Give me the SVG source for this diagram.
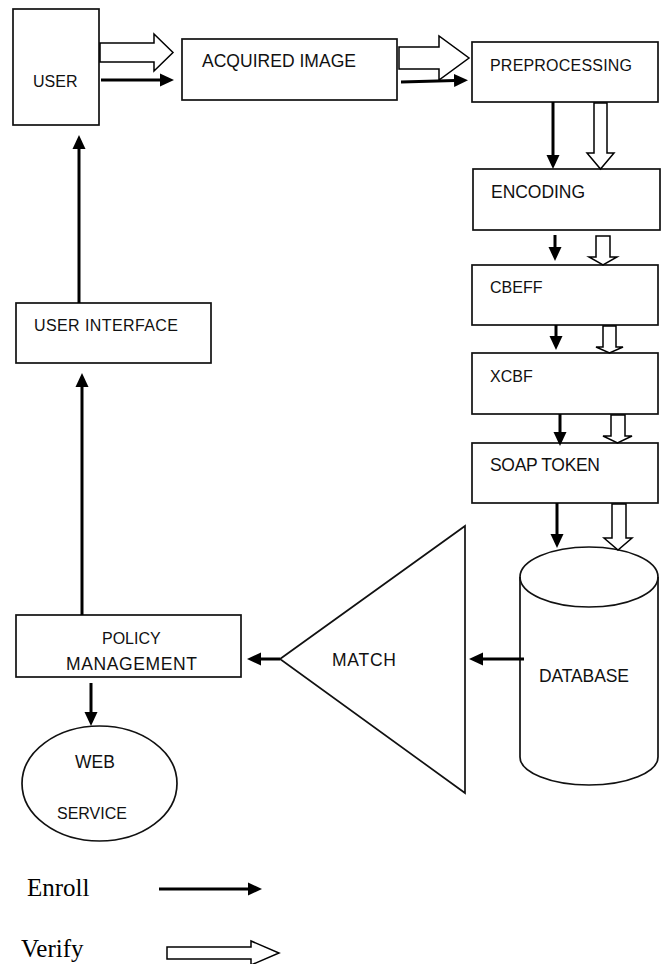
<svg xmlns="http://www.w3.org/2000/svg" width="666" height="964" viewBox="0 0 666 964">
<style>
.box{fill:#fff;stroke:#111;stroke-width:1.7}
.lbl{font-family:"Liberation Sans","Open Sans",Arial,sans-serif;font-size:17.5px;fill:#111}
.sm{font-size:16px}
.leg{font-family:"Liberation Serif","Times New Roman",serif;font-size:25px;fill:#000}
.en{fill:none;stroke:#000;stroke-width:3;marker-end:url(#head)}
.ve{fill:#fff;stroke:#000;stroke-width:1.5;stroke-linejoin:miter}
</style>
<defs>
<marker id="head" markerUnits="userSpaceOnUse" viewBox="0 -7 15 14" markerWidth="15" markerHeight="14" refX="1" refY="0" orient="auto">
<path d="M0,-6.5 L14,0 L0,6.5 Z" fill="#000"/>
</marker>
</defs>
<rect width="666" height="964" fill="#fff"/>

<g id="user"><rect class="box" x="13" y="9" width="86" height="116"/><text class="lbl sm" x="33" y="87">USER</text></g>
<g id="acquired"><rect class="box" x="182" y="39" width="215" height="61"/><text class="lbl" x="202" y="67" textLength="154">ACQUIRED IMAGE</text></g>
<g id="preprocessing"><rect class="box" x="472" y="42" width="186" height="60"/><text class="lbl sm" x="490" y="71" textLength="142">PREPROCESSING</text></g>
<g id="encoding"><rect class="box" x="473" y="169" width="187" height="61"/><text class="lbl" x="491" y="198" textLength="94">ENCODING</text></g>
<g id="cbeff"><rect class="box" x="472" y="265" width="186" height="60"/><text class="lbl sm" x="490" y="293">CBEFF</text></g>
<g id="xcbf"><rect class="box" x="472" y="353" width="186" height="61"/><text class="lbl sm" x="490" y="382">XCBF</text></g>
<g id="soap"><rect class="box" x="472" y="443" width="186" height="60"/><text class="lbl" x="490" y="471" textLength="110">SOAP TOKEN</text></g>
<g id="database">
<path class="box" d="M520,577 A69,30 0 0 1 658,577 V757 A69,28 0 0 1 520,757 Z"/>
<path d="M520,577 A69,30 0 0 0 658,577" fill="none" stroke="#111" stroke-width="1.7"/>
<text class="lbl" x="539" y="682" textLength="90">DATABASE</text>
</g>
<g id="match"><path class="box" d="M280,659 L465,526 L465,793 Z"/><text class="lbl" x="332" y="666" textLength="64">MATCH</text></g>
<g id="policy"><rect class="box" x="16" y="615" width="225" height="62"/>
<text class="lbl sm" x="102" y="644">POLICY</text>
<text class="lbl" x="66" y="670" textLength="131">MANAGEMENT</text></g>
<g id="userinterface"><rect class="box" x="16" y="303" width="195" height="60"/><text class="lbl sm" x="34" y="331" textLength="144">USER INTERFACE</text></g>
<g id="webservice"><ellipse class="box" cx="99.5" cy="783.5" rx="77.5" ry="57.5"/>
<text class="lbl" x="75" y="768" textLength="40">WEB</text>
<text class="lbl sm" x="57" y="819">SERVICE</text></g>

<g id="connectors">
<path class="ve" d="M100,43 H154 V34 L173,52.5 L154,71 V62 H100 Z"/>
<path class="ve" d="M399,47 H439 V36 L469,58 L439,80 V69 H399 Z"/>
<path class="ve" d="M594,103 H607 V153 H614 L600.5,169 L587,153 H594 Z"/>
<path class="ve" d="M596,236 H610 V257 H617 L603,265 L589,257 H596 Z"/>
<path class="ve" d="M603,326 H616 V347 H623 L609.5,353 L596,347 H603 Z"/>
<path class="ve" d="M611,415 H625 V436 H632 L617.5,443 L603,436 H611 Z"/>
<path class="ve" d="M612,504 H626 V538 H632 L618,550 L604,538 H612 Z"/>

<line class="en" x1="101" y1="80" x2="161" y2="80"/>
<line class="en" x1="401" y1="82" x2="455" y2="80.5"/>
<line class="en" x1="553" y1="102" x2="553" y2="156"/>
<line class="en" x1="555" y1="235" x2="555" y2="248"/>
<line class="en" x1="556" y1="325" x2="556" y2="337"/>
<line class="en" x1="560" y1="414" x2="560" y2="433"/>
<line class="en" x1="557" y1="503" x2="557" y2="535"/>
<line class="en" x1="524" y1="659" x2="482" y2="659"/>
<line class="en" x1="280" y1="659" x2="260" y2="659"/>
<line class="en" x1="91" y1="683" x2="91" y2="713"/>
<line class="en" x1="82" y1="615" x2="82" y2="386"/>
<line class="en" x1="79" y1="303" x2="79" y2="148"/>
</g>

<g id="legend">
<text class="leg" x="27" y="896">Enroll</text>
<line class="en" x1="159" y1="889" x2="249" y2="889"/>
<text class="leg" x="21" y="957">Verify</text>
<path class="ve" d="M167,947 H251 V941 L279,953 L251,965 V959 H167 Z"/>
</g>
</svg>
